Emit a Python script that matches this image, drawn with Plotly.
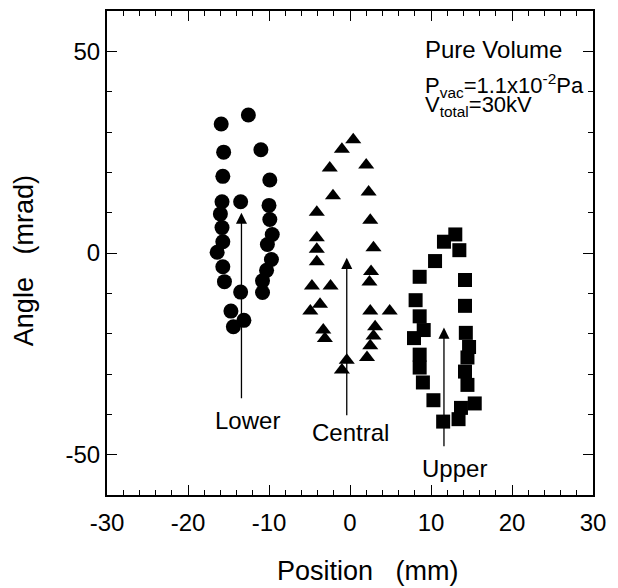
import plotly.graph_objects as go

# Lower (circles)
lower_x = [-12.55, -15.9, -11.0, -15.6, -15.7, -9.9, -15.8, -13.5, -10.0, -16.0, -9.9, -15.8, -9.6,
           -15.7, -10.2, -16.4, -9.7, -15.7, -10.3, -15.5, -10.8, -10.8, -13.5, -14.7, -13.1, -14.4]
lower_y = [34.2, 32.0, 25.6, 25.0, 19.0, 18.1, 12.7, 12.7, 11.8, 9.7, 8.3, 6.3, 4.6,
           2.8, 2.1, 0.2, -1.6, -3.4, -4.3, -7.1, -6.9, -9.8, -9.7, -14.4, -16.7, -18.3]

# Central (triangles)
central_x = [0.4, -1.0, -2.5, 2.0, -2.1, 2.3, -4.1, 2.5, -4.1, -4.1, -4.1, 2.9, 2.6, 2.4,
             -4.7, -2.4, -3.7, -4.9, 2.5, 4.9, 3.1, 2.9, 2.5, -3.3, -3.1, 2.1, -0.4, -1.0]
central_y = [28.1, 25.7, 21.1, 21.8, 14.2, 15.1, 10.1, 8.1, 3.8, 0.9, -2.2, 1.3, -4.6, -7.2,
             -8.2, -8.2, -12.7, -14.4, -14.4, -14.4, -18.3, -20.6, -23.0, -19.1, -21.2, -25.9, -26.6, -29.0]

# Upper (squares)
upper_x = [13.0, 11.6, 13.5, 10.5, 8.6, 14.2, 8.1, 14.2, 8.6, 9.1, 7.9, 14.3, 14.7, 8.6,
           14.5, 8.6, 14.2, 9.0, 14.5, 10.3, 15.4, 13.7, 13.4, 11.5]
upper_y = [4.6, 2.8, 0.7, -2.0, -5.9, -6.7, -11.7, -13.1, -15.7, -19.1, -21.1, -19.8, -23.3, -25.2,
           -25.9, -28.4, -29.4, -32.1, -32.7, -36.5, -37.3, -38.4, -41.2, -41.8]

# Arrows and their labels
arrow_labels = ["Lower", "Central", "Upper"]
arrow_x = [-13.4, -0.4, 11.6]
arrow_tip = [10.0, -1.2, -18.5]
arrow_base = [-36.4, -40.6, -48.3]
label_x = [-12.7, 0.0, 12.9]
label_y = [-41.6, -44.5, -53.5]

# Tick labels
x_ticks = [-30, -20, -10, 0, 10, 20, 30]
x_ticktext = ["-30", "-20", "-10", "0", "10", "20", "30"]
y_ticks = [-50, 0, 50]
y_ticktext = ["-50", "0", "50"]
y_minor = [-60, -40, -30, -20, -10, 10, 20, 30, 40, 60]

FONT = "Liberation Sans, Arial, sans-serif"

fig = go.Figure()
fig.add_trace(go.Scatter(x=lower_x, y=lower_y, mode="markers",
                         marker=dict(symbol="circle", size=15, color="black"), name="Lower"))
fig.add_trace(go.Scatter(x=central_x, y=central_y, mode="markers",
                         marker=dict(symbol="triangle-up", size=14, color="black"), name="Central"))
fig.add_trace(go.Scatter(x=upper_x, y=upper_y, mode="markers",
                         marker=dict(symbol="square", size=14, color="black"), name="Upper"))

for lab, x, tip, base, lx, ly in zip(arrow_labels, arrow_x, arrow_tip, arrow_base, label_x, label_y):
    fig.add_annotation(x=x, y=tip, ax=x, ay=base, xref="x", yref="y", axref="x", ayref="y",
                       text="", showarrow=True, arrowhead=2, arrowsize=1.7, arrowwidth=1.3,
                       arrowcolor="black")
    fig.add_annotation(x=lx, y=ly, xref="x", yref="y", text=lab, showarrow=False,
                       font=dict(size=24, color="black", family=FONT))

fig.add_annotation(x=9.0, y=50.5, xref="x", yref="y", xanchor="left", text="Pure Volume",
                   showarrow=False, font=dict(size=24, color="black", family=FONT))
fig.add_annotation(x=9.0, y=41.6, xref="x", yref="y", xanchor="left",
                   text="P<sub>vac</sub>=1.1x10<sup>-2</sup>Pa",
                   showarrow=False, font=dict(size=22, color="black", family=FONT))
fig.add_annotation(x=9.0, y=36.4, xref="x", yref="y", xanchor="left",
                   text="V<sub>total</sub>=30kV",
                   showarrow=False, font=dict(size=22, color="black", family=FONT))

# axis titles as annotations
fig.add_annotation(x=0.537, y=-0.158, xref="paper", yref="paper", yanchor="middle",
                   text="Position   (mm)", showarrow=False,
                   font=dict(size=27, color="black", family=FONT))
fig.add_annotation(x=-0.171, y=0.485, xref="paper", yref="paper", textangle=-90,
                   xanchor="center", yanchor="middle",
                   text="Angle   (mrad)", showarrow=False,
                   font=dict(size=27, color="black", family=FONT))

axis_common = dict(showgrid=False, zeroline=False, showline=True, linecolor="black", linewidth=2,
                   mirror="allticks", ticks="inside", ticklen=10, tickwidth=1.2, tickcolor="black",
                   tickfont=dict(size=24, color="black", family=FONT))
fig.update_xaxes(range=[-30, 30], tickvals=x_ticks, ticktext=x_ticktext, ticklabelstandoff=5,
                 minor=dict(dtick=2, tick0=0, ticks="inside", ticklen=5, tickwidth=1, tickcolor="black"),
                 **axis_common)
fig.update_yaxes(range=[-60, 60], tickvals=y_ticks, ticktext=y_ticktext,
                 minor=dict(tickvals=y_minor, ticks="inside",
                            ticklen=5, tickwidth=1, tickcolor="black"),
                 **axis_common)

fig.update_layout(width=602, height=580, showlegend=False,
                  plot_bgcolor="white", paper_bgcolor="white",
                  margin=dict(l=99, r=17, t=1, b=93),
                  font=dict(family=FONT, color="black"))

fig.write_html("out.html")
